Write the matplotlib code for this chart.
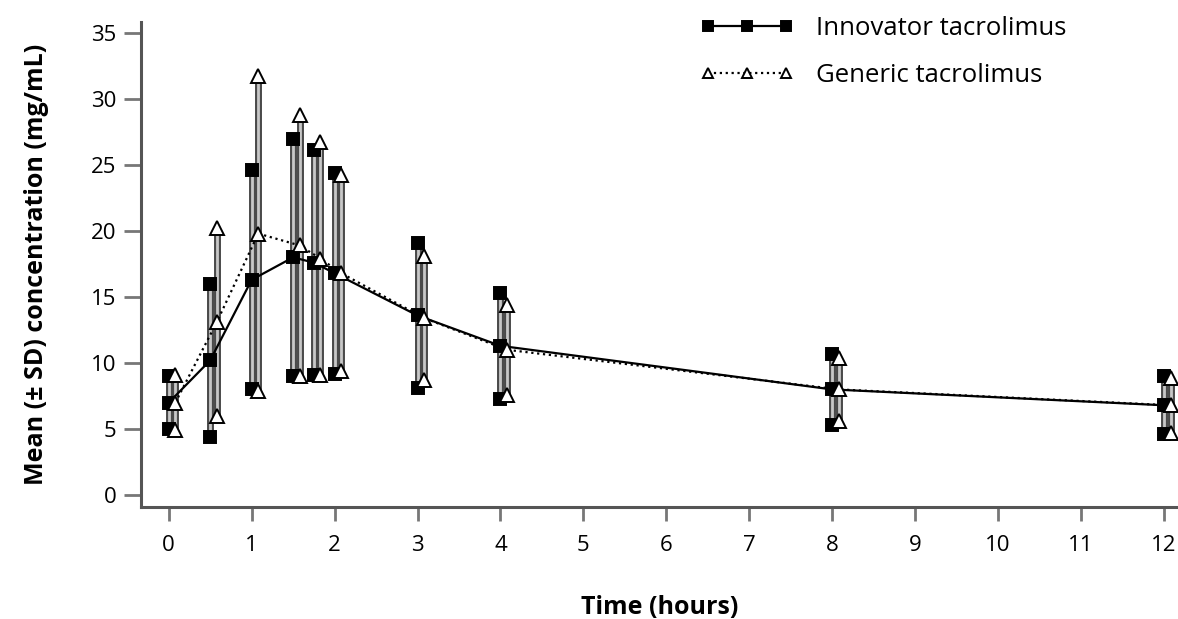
import matplotlib.pyplot as plt

# sampling times (hours)
time_h = [0, 0.5, 1, 1.5, 1.75, 2, 3, 4, 8, 12]

# innovator tacrolimus: mean and SD
innov_mean = [7.0, 10.2, 16.3, 18.0, 17.6, 16.8, 13.6, 11.3, 8.0, 6.8]
innov_sd   = [2.0, 5.8, 8.3, 9.0, 8.5, 7.6, 5.5, 4.0, 2.7, 2.2]

# generic tacrolimus: mean and SD
gen_mean = [7.0, 13.1, 19.8, 18.9, 17.9, 16.8, 13.4, 11.0, 8.0, 6.8]
gen_sd   = [2.1, 7.1, 11.9, 9.9, 8.8, 7.4, 4.7, 3.4, 2.4, 2.1]

x_ticks = list(range(0, 13))
y_ticks = list(range(0, 36, 5))

dx = 0.08  # small horizontal shift of the generic series

plt.rcParams['font.family'] = ['Open Sans', 'DejaVu Sans']

fig = plt.figure(figsize=(11.78, 6.19), dpi=100)
ax = fig.add_axes([0.12, 0.181, 0.88, 0.783])

def draw_series(xs, mean, sd, marker, mfc, ls, ms, label):
	lo = [m - s for m, s in zip(mean, sd)]
	hi = [m + s for m, s in zip(mean, sd)]
	# thick error bars: dark outline with light core
	ax.vlines(xs, lo, hi, color='#4a4a4a', lw=5.0, zorder=2)
	ax.vlines(xs, lo, hi, color='#c8c8c8', lw=2.0, zorder=2)
	# end markers at mean +/- SD
	ax.plot(xs, lo, ls='none', marker=marker, ms=ms, mfc=mfc, mec='black', mew=1.4, zorder=4)
	ax.plot(xs, hi, ls='none', marker=marker, ms=ms, mfc=mfc, mec='black', mew=1.4, zorder=4)
	# mean line
	ax.plot(xs, mean, color='black', ls=ls, lw=1.6, marker=marker, ms=ms,
			mfc=mfc, mec='black', mew=1.4, label=label, zorder=3)

draw_series(time_h, innov_mean, innov_sd, 's', 'black', '-', 9, 'Innovator tacrolimus')
draw_series([t + dx for t in time_h], gen_mean, gen_sd, '^', 'white', ':', 10, 'Generic tacrolimus')

ax.set_xlim(-0.33, 12.17)
ax.set_ylim(-0.9, 35.8)
ax.set_xticks(x_ticks)
ax.set_yticks(y_ticks)

for side in ['top', 'right']:
	ax.spines[side].set_visible(False)
for side in ['left', 'bottom']:
	ax.spines[side].set_color('#555555')
	ax.spines[side].set_linewidth(2.2)

ax.tick_params(axis='y', length=12, width=2, color='#777777', labelsize=16, pad=6)
ax.tick_params(axis='x', length=10, width=2, color='#777777', labelsize=16, pad=10)

ax.set_xlabel('Time (hours)', fontsize=18, fontweight='bold', labelpad=28)
ax.set_ylabel('Mean (\u00b1 SD) concentration (mg/mL)', fontsize=18, fontweight='bold', labelpad=30)

leg = ax.legend(loc='upper right', bbox_to_anchor=(0.915, 1.06), frameon=False,
				fontsize=18.5, numpoints=3, handlelength=3.6, markerscale=0.75,
				labelspacing=0.85, handletextpad=0.9)

fig.savefig('out.png', dpi=100)
